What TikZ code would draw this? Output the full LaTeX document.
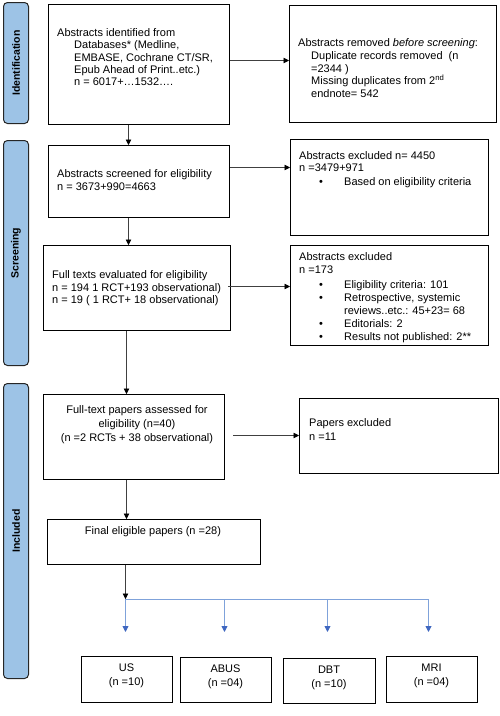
\documentclass[tikz,border=0pt]{standalone}
\usepackage{fontspec}
\setmainfont{Liberation Sans}
\usetikzlibrary{arrows.meta}
\definecolor{lblfill}{HTML}{9DC3E6}
\definecolor{bline}{HTML}{7FA2DA}
\definecolor{bhead}{HTML}{3F67C0}
\newcommand{\bodyfs}{\fontsize{11}{12.2}\selectfont}
\newcommand{\widefs}{\fontsize{11}{14}\selectfont}
\newcommand{\bul}{\hspace*{20pt}\makebox[25pt][l]{\textbullet}}
\begin{document}
\begin{tikzpicture}[x=1pt,y=-1pt,
  box/.style={draw=black, line width=1pt, anchor=north west, inner sep=0pt},
  txt/.style={anchor=north west, inner sep=0pt, align=left, font=\bodyfs},
  ctxt/.style={anchor=north, inner sep=0pt, align=center, font=\widefs},
  lbl/.style={draw=black!85, line width=1pt, fill=lblfill, rounded corners=4pt, anchor=north west, inner sep=0pt, minimum width=25pt},
  lbltxt/.style={rotate=90, inner sep=0pt, font=\fontsize{10.5}{12}\selectfont\bfseries},
  arr/.style={draw=black!75, line width=0.7pt, -{Triangle[length=5.5pt,width=5.5pt,color=black]}},
  barr/.style={draw=bline, line width=0.9pt, -{Triangle[length=6pt,width=6pt,color=bhead]}},
]
\useasboundingbox (0,0) rectangle (500,716);

% side labels
\node[lbl, minimum height=121pt] (idl) at (3,2) {};
\node[lbltxt] (idt) at (idl.center) {Identification};
\node[lbl, minimum height=225pt] (scl) at (3,140) {};
\node[lbltxt] (sct) at (scl.center) {Screening};
\node[lbl, minimum height=295pt] (inl) at (3,383) {};
\node[lbltxt] (intt) at (inl.center) {Included};

% boxes
\node[box, minimum width=181pt, minimum height=120pt] (b1) at (48,4) {};
\node[box, minimum width=207pt, minimum height=117pt] (b2) at (289,5) {};
\node[box, minimum width=181pt, minimum height=72pt] (b3) at (48,145) {};
\node[box, minimum width=198pt, minimum height=96pt] (b3x) at (290,139) {};
\node[box, minimum width=187pt, minimum height=85pt] (b4) at (43,245) {};
\node[box, minimum width=198pt, minimum height=100pt] (b4x) at (290,245) {};
\node[box, minimum width=181pt, minimum height=85pt] (b5) at (43,394) {};
\node[box, minimum width=199pt, minimum height=75pt] (b5x) at (299,398) {};
\node[box, minimum width=213pt, minimum height=45pt] (b6) at (47,519) {};
\node[box, minimum width=91pt, minimum height=46pt] (US) at (81,656) {};
\node[box, minimum width=91pt, minimum height=45pt] (ABUS) at (180,657) {};
\node[box, minimum width=92pt, minimum height=45pt] (DBT) at (283,658) {};
\node[box, minimum width=91pt, minimum height=46pt] (MRI) at (386,656) {};

% texts
\node[txt] (t1) at (57,28.5) {Abstracts identified from\\
\hspace*{17pt}Databases* (Medline,\\
\hspace*{17pt}EMBASE, Cochrane CT/SR,\\
\hspace*{17pt}Epub Ahead of Print..etc.)\\
\hspace*{17pt}n = 6017+\dots1532\dots.};
\node[txt, font=\fontsize{11}{12.7}\selectfont] (t2) at (298,38.5) {Abstracts removed \textit{before screening}:\\
\hspace*{13pt}Duplicate records removed~~(n\\
\hspace*{13pt}=2344 )\\
\hspace*{13pt}Missing duplicates from 2\textsuperscript{nd}\\
\hspace*{13pt}endnote= 542};
\node[txt, font=\fontsize{11}{12.6}\selectfont] (t3) at (57,169.5) {Abstracts screened for eligibility\\
n = 3673+990=4663};
\node[txt] (t3t) at (299,151.5) {Abstracts excluded n= 4450\\
n =3479+971\\[1.8pt]
\bul Based on eligibility criteria};
\node[txt, font=\fontsize{11}{12.5}\selectfont] (t4) at (52,270.5) {Full texts evaluated for eligibility\\
n = 194 1 RCT+193 observational)\\
n = 19 ( 1 RCT+ 18 observational)};
\node[txt, font=\fontsize{11}{13}\selectfont] (t4t) at (299,252.5) {Abstracts excluded\\
n =173\\[2pt]
\bul Eligibility criteria: 101\\
\bul Retrospective, systemic\\
\hspace*{45pt}reviews..etc.: 45+23= 68\\
\bul Editorials: 2\\
\bul Results not published: 2**};
\node[ctxt] (t5) at (137,405.5) {Full-text papers assessed for\\
eligibility (n=40)\\
(n =2 RCTs + 38 observational)};
\node[txt, font=\widefs] (t5t) at (309,418.5) {Papers excluded\\
n =11};
\node[ctxt] (t6) at (153,526.5) {Final eligible papers (n =28)};
\node[ctxt] (tus) at (126.5,663.5) {US\\(n =10)};
\node[ctxt] (tabus) at (225.5,664.5) {ABUS\\(n =04)};
\node[ctxt] (tdbt) at (329,665.5) {DBT\\(n =10)};
\node[ctxt] (tmri) at (431.5,663.5) {MRI\\(n =04)};

% connectors
\coordinate (h1) at ([yshift=4pt]b1.east);
\draw[arr] (h1) -- (h1 -| b2.west);
\coordinate (v1) at ([xshift=-10.5pt]b1.south);
\draw[arr] (v1) -- (v1 |- b3.north);
\coordinate (h2) at ([yshift=14pt]b3.east);
\draw[arr] (h2) -- (h2 -| b3x.west);
\coordinate (v2) at ([xshift=-10.5pt]b3.south);
\draw[arr] (v2) -- (v2 |- b4.north);
\coordinate (h3) at ([xshift=-3pt,yshift=1.5pt]b4.east);
\draw[arr] (h3) -- (h3 -| b4x.west);
\coordinate (v3) at ([xshift=-10.5pt]b4.south);
\draw[arr] (v3) -- (v3 |- b5.north);
\coordinate (h4) at ([xshift=8pt,yshift=1.5pt]b5.east);
\draw[arr] (h4) -- (h4 -| b5x.west);
\coordinate (v4) at ([xshift=-7.5pt]b5.south);
\draw[arr] (v4) -- (v4 |- b6.north);
\coordinate (v5) at ([xshift=-28.5pt]b6.south);
\coordinate (split) at ([yshift=-34pt]v5);
\coordinate (eUS) at ([yshift=24pt]US.north);
\coordinate (eABUS) at ([xshift=-1.5pt,yshift=25pt]ABUS.north);
\coordinate (eDBT) at ([xshift=-2pt,yshift=26pt]DBT.north);
\coordinate (eMRI) at ([xshift=-3.5pt,yshift=24pt]MRI.north);
\draw[bline, line width=0.9pt] (split) -- (split -| eMRI);
\draw[barr] (split) -- (split |- eUS);
\draw[barr] (split -| eABUS) -- (eABUS);
\draw[barr] (split -| eDBT) -- (eDBT);
\draw[barr] (split -| eMRI) -- (eMRI);
\draw[arr] (v5) -- (split);
\end{tikzpicture}
\end{document}
